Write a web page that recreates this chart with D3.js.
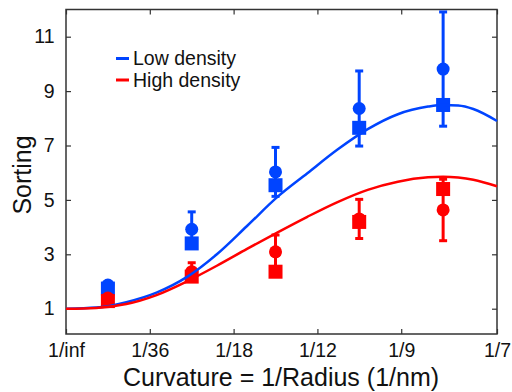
<!DOCTYPE html>
<html>
<head>
<meta charset="utf-8">
<script src="https://cdn.jsdelivr.net/npm/d3@7"></script>
<style>
body { margin: 0; background: #fff; }
svg { font-family: "Liberation Sans", Arial, sans-serif; }
.frame { fill: none; stroke: #333; stroke-width: 1.5; }
.axis path { display: none; }
.axis line { stroke: #333; stroke-width: 1.2; }
.axis text { font-size: 19.5px; fill: #111; }
</style>
</head>
<body>
<script>
// x positions of the measurements (1/nm)
var xPoints = [1/72, 1/24, 1/14.4, 1/10.29, 1/8];

var lowCircle = [1.87, 3.92, 6.03, 8.36, 9.81];
var lowCircleErr = [0.08, 0.64, 0.9, 1.38, 2.1];
var lowSquare = [1.74, 3.40, 5.54, 7.65, 8.49];

var highCircle = [1.39, 2.36, 3.09, 4.30, 4.63];
var highCircleErr = [0.06, 0.33, 0.62, 0.72, 1.13];
var highSquare = [1.28, 2.18, 2.36, 4.19, 5.40];

// fitted curves
var curveX = [0, 0.01, 0.02, 0.03, 0.04, 0.05, 0.06, 0.07, 0.08, 0.09, 0.10, 0.11, 0.12, 0.125, 0.13, 0.135, 1/7];
var lowCurve = [1.0, 1.04, 1.24, 1.59, 2.16, 3.0, 4.04, 5.1, 5.98, 6.85, 7.6, 8.15, 8.43, 8.49, 8.47, 8.34, 7.9];
var highCurve = [1.0, 1.03, 1.17, 1.5, 2.0, 2.58, 3.2, 3.8, 4.38, 4.92, 5.37, 5.67, 5.83, 5.85, 5.82, 5.74, 5.5];

var xTicks = [0, 1/36, 1/18, 1/12, 1/9, 1/7];
var xTickLabels = ["1/inf", "1/36", "1/18", "1/12", "1/9", "1/7"];
var yTicks = [1, 3, 5, 7, 9, 11];

var series = [
    {name: "Low density", color: "#0044ff", circle: lowCircle, err: lowCircleErr, square: lowSquare, curve: lowCurve},
    {name: "High density", color: "#ff0000", circle: highCircle, err: highCircleErr, square: highSquare, curve: highCurve}
];

var W = 512, H = 392;
var pLeft = 66, pRight = 497, pTop = 9.5, pBottom = 334;

var svg = d3.select("body").append("svg")
    .attr("width", W)
    .attr("height", H);

var x = d3.scaleLinear().domain([0, 1/7]).range([pLeft, pRight]);
var y = d3.scaleLinear().domain([0.07, 12]).range([pBottom, pTop]);

// axes with inward ticks on all four sides
svg.append("g").attr("class", "axis")
    .attr("transform", "translate(0," + pBottom + ")")
    .call(d3.axisBottom(x).tickValues(xTicks).tickSize(-5).tickPadding(9)
        .tickFormat(function (d, i) { return xTickLabels[i]; }));
svg.append("g").attr("class", "axis")
    .attr("transform", "translate(0," + pTop + ")")
    .call(d3.axisTop(x).tickValues(xTicks).tickSize(-5).tickFormat(""));
svg.append("g").attr("class", "axis")
    .attr("transform", "translate(" + pLeft + ",0)")
    .call(d3.axisLeft(y).tickValues(yTicks).tickSize(-5).tickPadding(11.5));
svg.append("g").attr("class", "axis")
    .attr("transform", "translate(" + pRight + ",0)")
    .call(d3.axisRight(y).tickValues(yTicks).tickSize(-5).tickFormat(""));

svg.append("rect").attr("class", "frame")
    .attr("x", pLeft).attr("y", pTop)
    .attr("width", pRight - pLeft).attr("height", pBottom - pTop);

// markers and error bars
var capw = 4;
series.forEach(function (s) {
    var g = svg.append("g");
    xPoints.forEach(function (px, i) {
        var cx = x(px);
        var y1 = y(s.circle[i] + s.err[i]), y2 = y(s.circle[i] - s.err[i]);
        g.append("line").attr("x1", cx).attr("x2", cx).attr("y1", y1).attr("y2", y2)
            .attr("stroke", s.color).attr("stroke-width", 3);
        [y1, y2].forEach(function (yy) {
            g.append("line").attr("x1", cx - capw).attr("x2", cx + capw).attr("y1", yy).attr("y2", yy)
                .attr("stroke", s.color).attr("stroke-width", 3);
        });
        g.append("circle").attr("cx", cx).attr("cy", y(s.circle[i])).attr("r", 6.5)
            .attr("fill", s.color);
        g.append("rect").attr("x", cx - 7).attr("y", y(s.square[i]) - 7)
            .attr("width", 14).attr("height", 14).attr("fill", s.color);
    });
});

// fitted curves
var line = d3.line()
    .x(function (d, i) { return x(curveX[i]); })
    .y(function (d) { return y(d); })
    .curve(d3.curveMonotoneX);
series.forEach(function (s) {
    svg.append("path").datum(s.curve)
        .attr("d", line)
        .attr("fill", "none")
        .attr("stroke", s.color)
        .attr("stroke-width", 2.5);
});

// legend
series.forEach(function (s, i) {
    var ly = 58.5 + i * 21.5;
    svg.append("line").attr("x1", 116).attr("x2", 129).attr("y1", ly).attr("y2", ly)
        .attr("stroke", s.color).attr("stroke-width", 3);
    svg.append("text").attr("x", 133).attr("y", ly + 6.5)
        .attr("font-size", 19.5).attr("fill", "#111").text(s.name);
});

// axis titles
svg.append("text").attr("x", 281).attr("y", 386)
    .attr("text-anchor", "middle").attr("font-size", 25).attr("fill", "#111")
    .text("Curvature = 1/Radius (1/nm)");
svg.append("text")
    .attr("transform", "translate(31," + 175 + ") rotate(-90)")
    .attr("text-anchor", "middle").attr("font-size", 25).attr("fill", "#111")
    .text("Sorting");
</script>
</body>
</html>
